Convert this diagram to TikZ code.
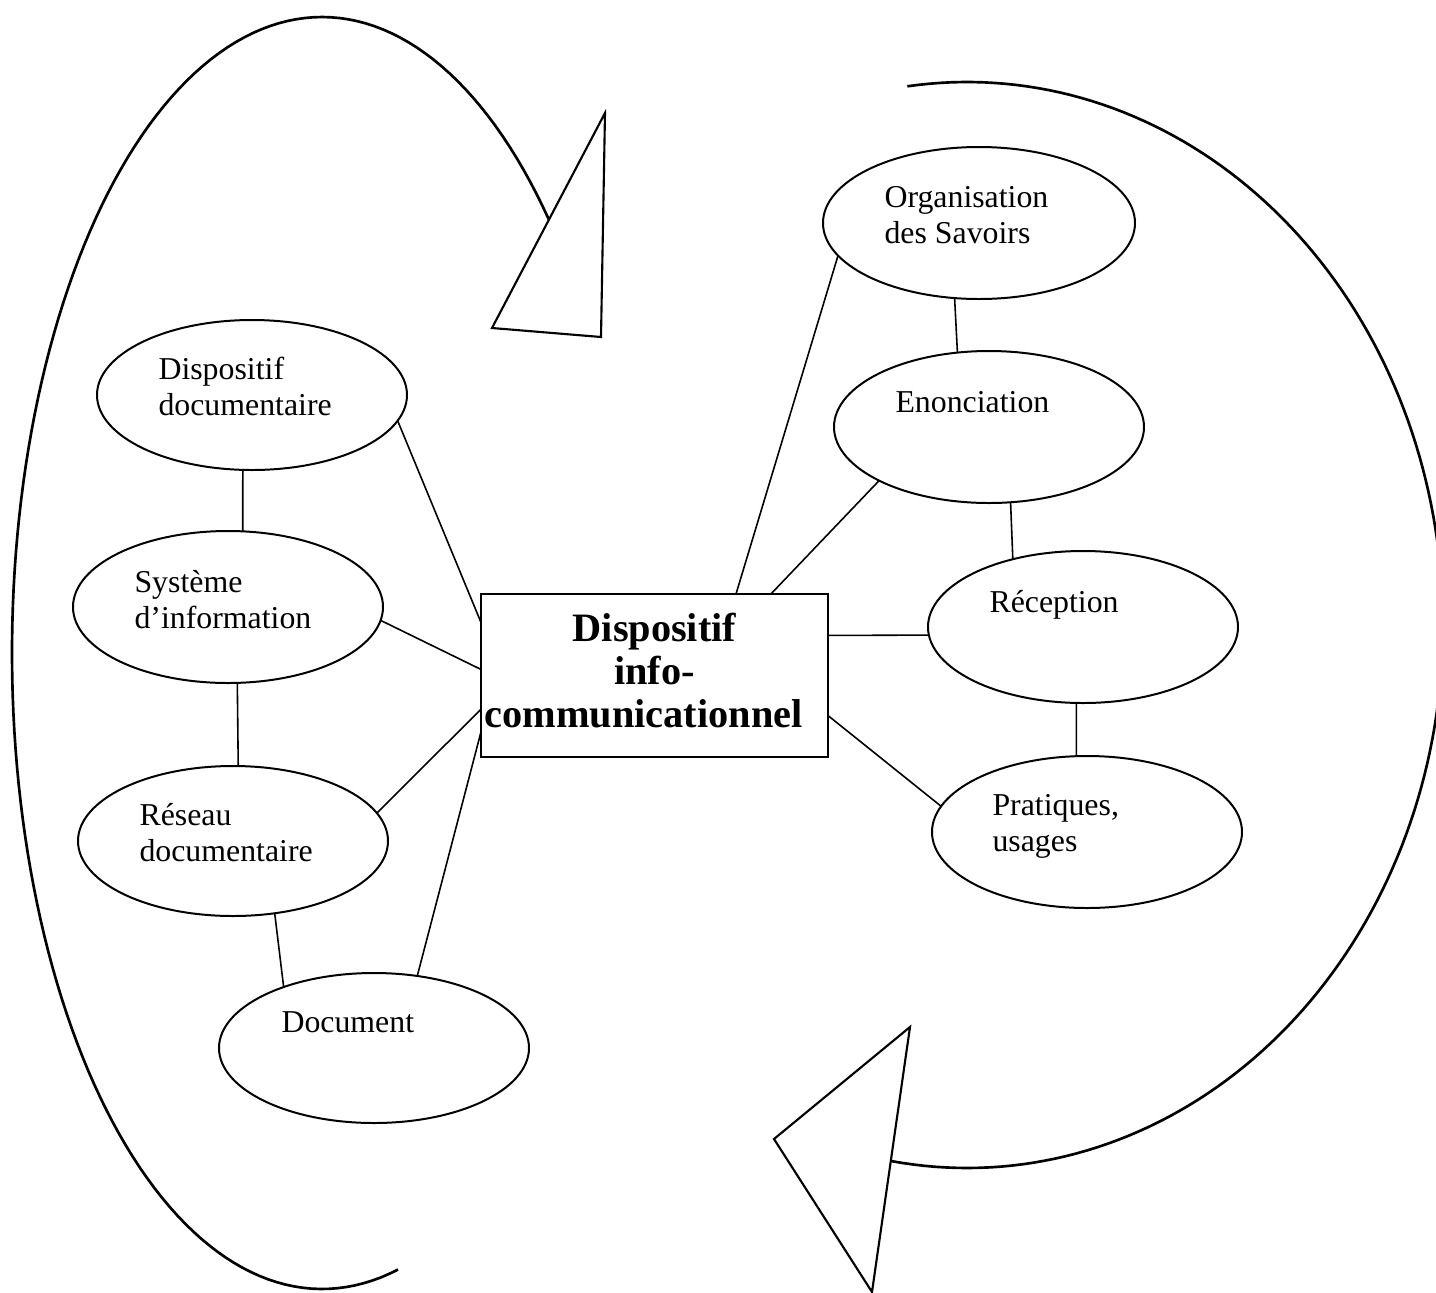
\documentclass[tikz,border=0pt]{standalone}
\usepackage{fontspec}
\setmainfont{Liberation Serif}
\usetikzlibrary{shapes.geometric}
\begin{document}
\begin{tikzpicture}[x=0.377pt,y=-0.377pt,
  oval/.style 2 args={draw, ellipse, line width=0.75pt, inner sep=0pt, outer sep=0pt, minimum width={#1*0.754pt}, minimum height={#2*0.754pt}},
  lbl/.style={anchor=base west, inner sep=0pt, font=\fontsize{12}{13.9}\selectfont},
  link/.style={line width=0.6pt},
  infobox/.style={draw, line width=0.7pt, inner sep=0pt, outer sep=0pt, minimum width={347*0.377pt}, minimum height={163*0.377pt}, font=\fontsize{15.2}{16.2}\selectfont\bfseries},
  bigarc/.style={line width=1pt},
  tri/.style={line width=0.8pt, line join=miter}]
\fill[white] (0,0) rectangle (1436,1293);
\useasboundingbox (0,0) rectangle (1436,1293);

% ellipses
\node[oval={155}{75}] (dd) at (252,395) {};
\node[oval={155}{76}] (si) at (228,607) {};
\node[oval={155}{75}] (rd) at (233,841) {};
\node[oval={155}{75}] (doc) at (374,1048) {};
\node[oval={156}{76}] (org) at (979,223) {};
\node[oval={155}{76}] (en) at (989,427) {};
\node[oval={155}{76}] (rec) at (1083,627) {};
\node[oval={155}{76}] (pr) at (1087,832) {};

% central box
\node[infobox] (box) at (654.5,675.5) {\begin{tabular}{@{}c@{}}Dispositif\\info-\\communicationnel\hspace*{8.3pt}\end{tabular}};

% labels
\node[lbl] (ddt) at (158,379) {\begin{tabular}[t]{@{}l@{}}Dispositif\\documentaire\end{tabular}};
\node[lbl] (sit) at (134,592) {\begin{tabular}[t]{@{}l@{}}Système\\d’information\end{tabular}};
\node[lbl] (rdt) at (139,825) {\begin{tabular}[t]{@{}l@{}}Réseau\\documentaire\end{tabular}};
\node[lbl] (doct) at (281,1032) {Document};
\node[lbl] (orgt) at (884,207) {\begin{tabular}[t]{@{}l@{}}Organisation\\des Savoirs\end{tabular}};
\node[lbl] (ent) at (895,412) {Enonciation};
\node[lbl] (rect) at (989,612) {Réception};
\node[lbl] (prt) at (992,815) {\begin{tabular}[t]{@{}l@{}}Pratiques,\\usages\end{tabular}};

% connectors
\draw[link] (dd.-10.55) -- (box.163.2);
\draw[link] (dd.-97.6) -- (si.79.6);
\draw[link] (si.-5.9) -- (box.178.8);
\draw[link] (si.-83.5) -- (rd.86.9);
\draw[link] (rd.11.4) -- (box.-169.4);
\draw[link] (rd.-60.4) -- (doc.146.7);
\draw[link] (doc.59.2) -- (box.-162);
\draw[link] (box.45.7) -- (org.-167.8);
\draw[link] (box.35.4) -- (en.-154.6);
\draw[link] (org.-108) -- (en.113.7);
\draw[link] (en.-74.9) -- (rec.136.2);
\draw[link] (box.13.1) -- (rec.-177.8);
\draw[link] (rec.-95.2) -- (pr.98.2);
\draw[link] (box.-13.1) -- (pr.170.6);

% cycle arrows
\draw[bigarc] plot[domain=-43:-284.2, samples=150, variable=\t] ({322+310*cos(\t)}, {653+636*sin(\t)});
\draw[tri] (605,113) -- (492,328) -- (601,337) -- cycle;
\draw[bigarc] plot[domain=-97.2:99.1, samples=150, variable=\t] ({967+476*cos(\t)}, {625+543*sin(\t)});
\draw[tri] (910,1027) -- (774,1139) -- (872,1292) -- cycle;
\end{tikzpicture}
\end{document}
